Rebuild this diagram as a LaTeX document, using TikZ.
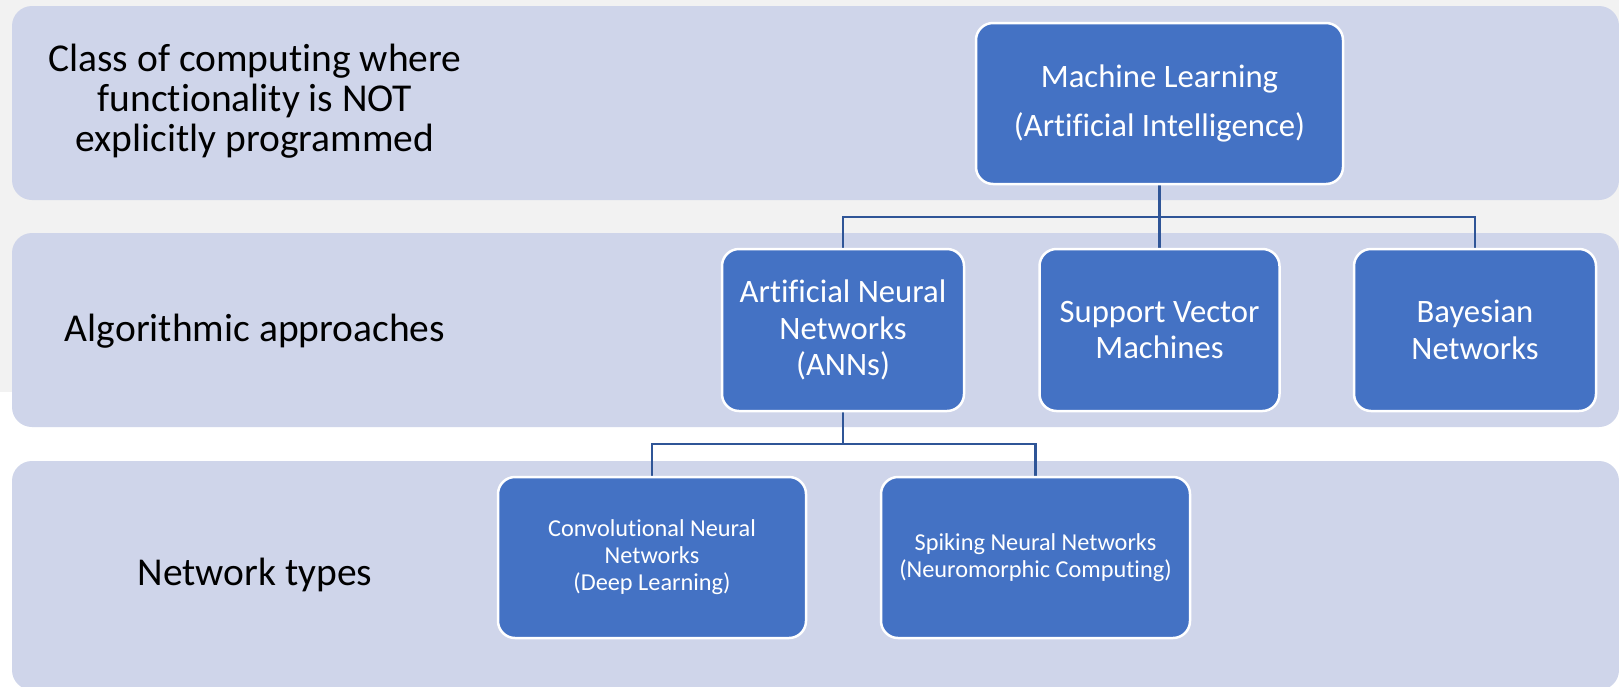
\documentclass[tikz,border=0pt]{standalone}
\usepackage{fontspec}
\setmainfont{Carlito}[Ligatures={NoCommon}]
\usetikzlibrary{calc}
\definecolor{bggray}{HTML}{F2F2F2}
\definecolor{bandcol}{HTML}{CFD5EA}
\definecolor{boxblue}{HTML}{4472C4}
\definecolor{conncol}{HTML}{2F5597}
\pgfdeclarelayer{bottom}
\pgfdeclarelayer{mid}
\pgfsetlayers{bottom,mid,main}
\begin{document}
\begin{tikzpicture}[x=1pt,y=-1pt,
  bandbox/.style={fill=bandcol, rounded corners=20pt},
  boxnode/.style={draw=white, line width=2.5pt, fill=boxblue, rounded corners=17pt, text=white, align=center, inner sep=0pt},
  bigbox/.style={boxnode, minimum width=242pt, minimum height=162pt, font=\fontsize{32.7}{36.5}\selectfont},
  smallbox/.style={boxnode, minimum width=308pt, minimum height=161pt, font=\fontsize{24.3}{27}\selectfont},
  bandtext/.style={align=center, inner sep=0pt, font=\fontsize{39.5}{40}\selectfont, text=black},
  conn/.style={draw=conncol, line width=2.3pt}]
\useasboundingbox (0,0) rectangle (1619,686);
\begin{pgfonlayer}{bottom}
  \fill[white] (0,0) rectangle (1619,686);
  \fill[bggray] (0,0) rectangle (1619,392);
  \fill[bandbox] (12,6) rectangle (1619,200);
  \fill[bandbox] (12,233) rectangle (1619,427);
  \fill[bandbox] (12,461) rectangle (1619,690);
\end{pgfonlayer}

\node[bandtext] (t1) at (255,101) {Class of computing where\\functionality is NOT\\explicitly programmed};
\node[bandtext] (t2) at (255,331) {Algorithmic approaches};
\node[bandtext] (t3) at (255,575) {Network types};

\node[boxnode, minimum width=367pt, minimum height=161pt, font=\fontsize{32.7}{48.6}\selectfont] (ml) at (1159.5,103.5) {Machine Learning\\(Artificial Intelligence)};
\node[bigbox] (ann) at (843,330) {Artificial Neural\\Networks\\(ANNs)};
\node[bigbox, minimum width=240pt] (svm) at (1159.5,330) {Support Vector\\Machines};
\node[bigbox] (bay) at (1475,330) {Bayesian\\Networks};
\node[smallbox] (cnn) at (652,557.5) {Convolutional Neural\\Networks\\(Deep Learning)};
\node[smallbox, minimum width=309pt] (snn) at (1035.5,557.5) {Spiking Neural Networks\\(Neuromorphic Computing)};

\coordinate (j1) at (1159.5,216.7);
\coordinate (j2) at (843,444.3);
\begin{pgfonlayer}{mid}
  \draw[conn] (ml.south) -- (j1);
  \draw[conn] (ann.north) |- (j1) -| (bay.north);
  \draw[conn] (j1) -- (svm.north);
  \draw[conn] (ann.south) -- (j2);
  \draw[conn] (cnn.north) |- (j2) -| (snn.north);
\end{pgfonlayer}
\end{tikzpicture}
\end{document}
